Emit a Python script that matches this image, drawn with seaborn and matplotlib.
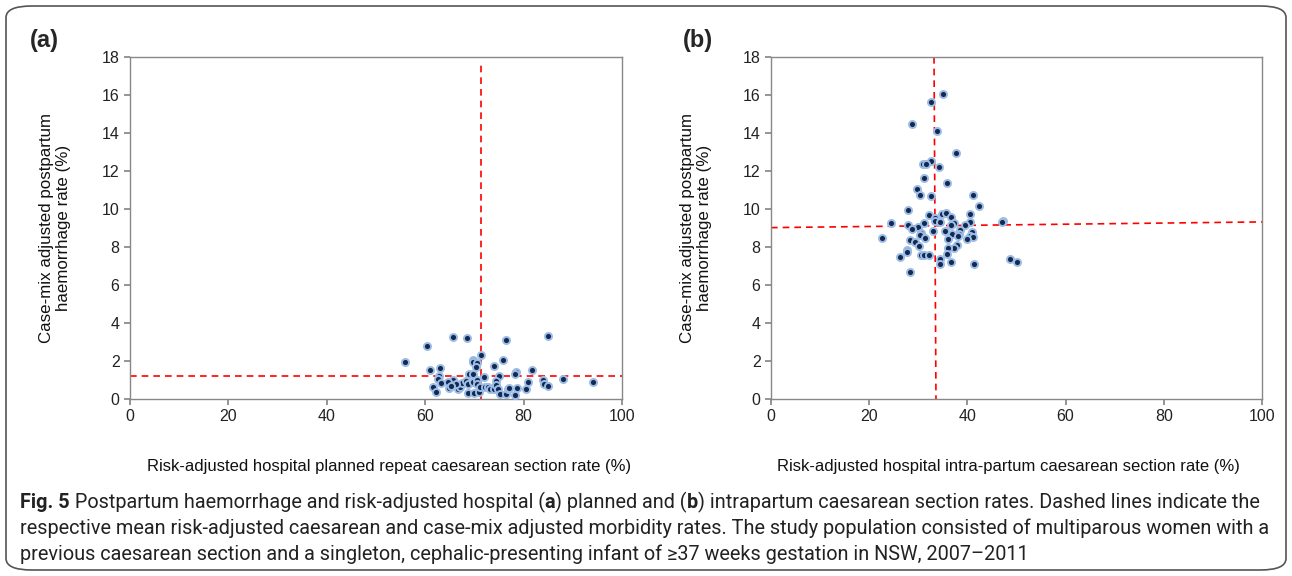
import matplotlib
matplotlib.use("Agg")
import matplotlib.pyplot as plt
import seaborn as sns
import pandas as pd
from matplotlib.patches import FancyBboxPatch

# ---- data ----
planned_x = [55.8, 60.4, 65.7, 68.4, 76.5, 85.0, 61.0, 63.1, 71.3, 69.7, 69.7, 70.5, 70.4, 74.0,
             75.9, 78.5, 78.3, 81.8, 69.0, 69.7, 71.9, 75.0, 62.9, 62.7, 63.3, 65.6, 64.6, 61.6,
             62.1, 64.9, 66.7, 67.1, 67.5, 68.3, 68.6, 69.7, 70.6, 70.6, 68.7, 70.0, 70.9, 71.1,
             72.2, 72.8, 73.2, 73.9, 74.3, 74.4, 74.7, 75.2, 76.4, 76.8, 77.1, 78.2, 78.7, 80.4,
             80.8, 83.9, 84.2, 85.0, 88.1, 94.1, 66.2, 65.3]
planned_y = [1.93, 2.77, 3.25, 3.21, 3.09, 3.32, 1.51, 1.63, 2.33, 2.05, 1.96, 1.88, 1.68, 1.72,
             2.07, 1.40, 1.33, 1.54, 1.33, 1.30, 1.14, 1.19, 1.21, 1.05, 0.86, 0.98, 0.89, 0.65,
             0.38, 0.58, 0.54, 0.65, 0.86, 0.96, 0.77, 0.89, 1.00, 0.77, 0.33, 0.33, 0.38, 0.65,
             0.65, 0.65, 0.51, 0.51, 0.93, 0.72, 0.51, 0.25, 0.25, 0.51, 0.56, 0.23, 0.58, 0.51,
             0.91, 0.98, 0.77, 0.68, 1.05, 0.91, 0.77, 0.70]

intra_x = [35.1, 32.5, 28.8, 33.9, 37.7, 32.6, 31.0, 31.6, 34.3, 31.2, 35.8, 29.8, 30.3, 32.6,
           41.1, 42.3, 28.0, 32.2, 34.8, 35.6, 36.7, 40.6, 33.3, 33.5, 34.4, 31.2, 24.4, 37.3,
           36.7, 40.5, 39.6, 47.3, 47.0, 28.0, 29.9, 28.8, 32.9, 35.4, 38.5, 38.3, 36.9, 30.5,
           30.3, 40.9, 40.5, 41.2, 38.1, 31.4, 22.7, 28.4, 29.3, 36.1, 39.9, 30.2, 37.9, 37.3,
           36.1, 27.7, 27.8, 35.8, 30.6, 31.1, 32.2, 26.3, 34.4, 36.7, 34.4, 41.3, 48.6, 50.2,
           28.3]
intra_y = [16.04, 15.63, 14.46, 14.09, 12.96, 12.51, 12.35, 12.35, 12.19, 11.65, 11.38, 11.05,
           10.75, 10.67, 10.75, 10.18, 9.93, 9.68, 9.74, 9.77, 9.56, 9.75, 9.53, 9.37, 9.33, 9.28,
           9.28, 9.28, 9.14, 9.32, 9.14, 9.37, 9.30, 9.14, 9.05, 8.95, 8.83, 8.83, 8.91, 8.70,
           8.67, 8.74, 8.63, 8.77, 8.60, 8.51, 8.56, 8.49, 8.46, 8.35, 8.25, 8.41, 8.41, 8.04,
           8.11, 7.95, 7.93, 7.83, 7.72, 7.62, 7.60, 7.58, 7.60, 7.46, 7.37, 7.23, 7.09, 7.09,
           7.39, 7.23, 6.70]

# mean lines (endpoints as drawn in the figure)
a_vline_x = [71.3, 71.3]; a_vline_y = [0, 17.7]
a_hline_x = [0, 100];     a_hline_y = [1.21, 1.21]
b_vline_x = [33.2, 33.6]; b_vline_y = [18, 0]
b_hline_x = [0, 100];     b_hline_y = [9.02, 9.32]

x_ticks = [0, 20, 40, 60, 80, 100]
y_ticks = [0, 2, 4, 6, 8, 10, 12, 14, 16, 18]

xlabel_a = "Risk-adjusted hospital planned repeat caesarean section rate (%)"
xlabel_b = "Risk-adjusted hospital intra-partum caesarean section rate (%)"
ylabel = "Case-mix adjusted postpartum\nhaemorrhage rate (%)"

caption_lines = [
    [("Fig. 5", True), (" Postpartum haemorrhage and risk-adjusted hospital (", False), ("a", True),
     (") planned and (", False), ("b", True),
     (") intrapartum caesarean section rates. Dashed lines indicate the", False)],
    [("respective mean risk-adjusted caesarean and case-mix adjusted morbidity rates. The study "
      "population consisted of multiparous women with a", False)],
    [("previous caesarean section and a singleton, cephalic-presenting infant of \u226537 weeks "
      "gestation in NSW, 2007\u20132011", False)],
]

sns.set_theme(style="white")
plt.rcParams['font.family'] = ['Liberation Sans', 'DejaVu Sans']

fig = plt.figure(figsize=(12.92, 5.76), dpi=100)
ax_a = fig.add_axes([130/1292, 1-399/576, 492/1292, 342/576])
ax_b = fig.add_axes([771/1292, 1-399/576, 491/1292, 342/576])

panels = [
    (ax_a, planned_x, planned_y, a_vline_x, a_vline_y, a_hline_x, a_hline_y, xlabel_a, 0.526),
    (ax_b, intra_x, intra_y, b_vline_x, b_vline_y, b_hline_x, b_hline_y, xlabel_b, 0.483),
]
for ax, xs, ys, vx, vy, hx, hy, xl, xlab_pos in panels:
    df = pd.DataFrame({"x": xs, "y": ys})
    ax.plot(vx, vy, color="#ff0000", linestyle=(0, (4, 3)), linewidth=1.2, zorder=1)
    ax.plot(hx, hy, color="#ff0000", linestyle=(0, (4, 3)), linewidth=1.2, zorder=1)
    sns.scatterplot(data=df, x="x", y="y", ax=ax, s=26, color="#13294f",
                    edgecolor="#9dbde6", linewidth=1.4, zorder=3, legend=False)
    ax.set_xlim(0, 100)
    ax.set_ylim(0, 18)
    ax.set_xticks(x_ticks)
    ax.set_yticks(y_ticks)
    ax.tick_params(axis="both", labelsize=11.5, colors="#222222", length=4,
                   direction="out", bottom=True, left=True, color="#888888")
    for sp in ax.spines.values():
        sp.set_color("#888888")
        sp.set_linewidth(1.0)
    ax.set_xlabel(xl, fontsize=12, color="#111111")
    ax.set_ylabel(ylabel, fontsize=12.2, color="#111111", linespacing=1.2)
    ax.xaxis.set_label_coords(xlab_pos, -0.175)
    ax.yaxis.set_label_coords(-0.12, 0.5)

fig.text(30/1292, 1-40/576, "(a)", fontsize=17, fontweight="bold", va="center", ha="left")
fig.text(683/1292, 1-40/576, "(b)", fontsize=17, fontweight="bold", va="center", ha="left")

# frame around the figure
box = FancyBboxPatch((6/1292, 6/576), 1280/1292, 564/576, transform=fig.transFigure,
                     boxstyle="round,pad=0,rounding_size=0.02", fill=False,
                     edgecolor="#555555", linewidth=1.2)
fig.patches.append(box)

# caption: segments placed one after another, size fitted so line 1 spans ~1245 px
cap_family = ['Roboto', 'DejaVu Sans']
renderer = fig.canvas.get_renderer()


def draw_line(segs, y_px, fs, draw=True):
    x = 20.0
    texts = []
    for s, bold in segs:
        t = fig.text(x/1292, 1-y_px/576, s, fontsize=fs, family=cap_family,
                     fontweight="bold" if bold else "normal", color="#222222",
                     va="center", ha="left")
        x += t.get_window_extent(renderer).width
        texts.append(t)
    if not draw:
        for t in texts:
            t.remove()
    return x - 20.0


base = 13.0
w0 = draw_line(caption_lines[0], 502, base, draw=False)
fs = base * 1245.0 / w0
for segs, yy in zip(caption_lines, [502, 528, 554]):
    draw_line(segs, yy, fs)

fig.savefig("out.png", dpi=100)
